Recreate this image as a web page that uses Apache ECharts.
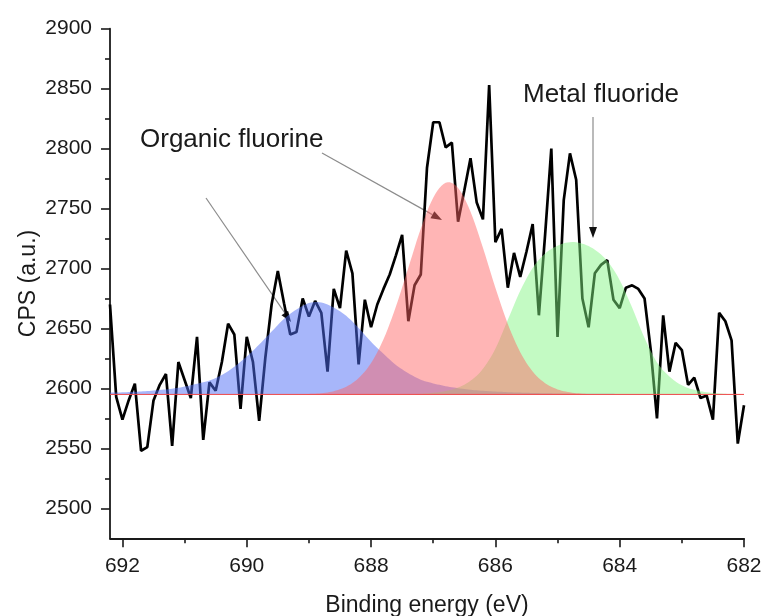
<!DOCTYPE html>
<html>
<head>
<meta charset="utf-8">
<script src="https://cdn.jsdelivr.net/npm/echarts@6/dist/echarts.min.js"></script>
<style>
  html, body { margin: 0; padding: 0; background: #fff; }
  #chart { width: 764px; height: 616px; }
</style>
</head>
<body>
<div id="chart"></div>
<script>
// measured spectrum (binding energy, eV -> counts)
const energy = [692.2, 692.1, 692.0, 691.9, 691.8, 691.7, 691.6, 691.5, 691.4, 691.3,
  691.2, 691.1, 691.0, 690.9, 690.8, 690.7, 690.6, 690.5, 690.4, 690.3,
  690.2, 690.1, 690.0, 689.9, 689.8, 689.7, 689.6, 689.5, 689.4, 689.3,
  689.2, 689.1, 689.0, 688.9, 688.8, 688.7, 688.6, 688.5, 688.4, 688.3,
  688.2, 688.1, 688.0, 687.9, 687.8, 687.7, 687.6, 687.5, 687.4, 687.3,
  687.2, 687.1, 687.0, 686.9, 686.8, 686.7, 686.6, 686.5, 686.4, 686.3,
  686.2, 686.1, 686.0, 685.9, 685.8, 685.7, 685.6, 685.5, 685.4, 685.3,
  685.2, 685.1, 685.0, 684.9, 684.8, 684.7, 684.6, 684.5, 684.4, 684.3,
  684.2, 684.1, 684.0, 683.9, 683.8, 683.7, 683.6, 683.5, 683.4, 683.3,
  683.2, 683.1, 683.0, 682.9, 682.8, 682.7, 682.6, 682.5, 682.4, 682.3,
  682.2, 682.1, 682.0];
const counts = [2670, 2593, 2574, 2590, 2604, 2548, 2551, 2590, 2603, 2612,
  2552, 2622, 2607, 2592, 2643, 2557, 2605, 2598, 2622, 2654,
  2645, 2583, 2643, 2622, 2573, 2626, 2670, 2698, 2671, 2645,
  2647, 2675, 2660, 2673, 2663, 2614, 2683, 2667, 2715, 2696,
  2620, 2674, 2651, 2670, 2683, 2695, 2711, 2728, 2656, 2686,
  2695, 2784, 2822, 2822, 2801, 2805, 2739, 2765, 2792, 2755,
  2741, 2853, 2722, 2733, 2684, 2713, 2693, 2714, 2737, 2661,
  2728, 2800, 2643, 2757, 2796, 2774, 2675, 2651, 2696, 2703,
  2707, 2674, 2667, 2684, 2686, 2683, 2675, 2632, 2575, 2661,
  2614, 2638, 2632, 2603, 2609, 2592, 2594, 2574, 2663, 2656,
  2640, 2554, 2586];

// fitted components
const fitEnergy = [692.2, 692.0, 691.8, 691.6, 691.4, 691.2, 691.0, 690.8, 690.6, 690.4,
  690.2, 690.0, 689.8, 689.6, 689.4, 689.2, 689.0, 688.8, 688.6, 688.4,
  688.2, 688.0, 687.8, 687.6, 687.4, 687.2, 687.0, 686.8, 686.6, 686.4,
  686.2, 686.0, 685.8, 685.6, 685.4, 685.2, 685.0, 684.8, 684.6, 684.4,
  684.2, 684.0, 683.8, 683.6, 683.4, 683.2, 683.0, 682.8, 682.6, 682.4,
  682.2, 682.0];
const organicFit = [2596.5, 2596.7, 2597.2, 2597.8, 2598.7, 2599.8, 2601.5, 2603.9, 2606.6, 2611.2,
  2618.1, 2626.6, 2636.6, 2647.4, 2658.1, 2665.8, 2671.2, 2671.6, 2667.4, 2660.5,
  2650.4, 2638.9, 2628.9, 2619.6, 2612.7, 2607.3, 2604.2, 2601.9, 2600.2, 2598.9,
  2598.0, 2597.4, 2596.9, 2596.5, 2596.2, 2596.0, 2595.8, 2595.7, 2595.6, 2595.5,
  2595.5, 2595.4, 2595.4, 2595.3, 2595.3, 2595.3, 2595.2, 2595.2, 2595.2, 2595.2,
  2595.1, 2595.1];
const organicFit2 = [2595, 2595, 2595, 2595, 2595, 2595, 2595, 2595, 2595, 2595,
  2595, 2595, 2595, 2595, 2595, 2595, 2595.4, 2596, 2597.7, 2601.4,
  2608.6, 2621.2, 2641, 2668.3, 2700.7, 2733.2, 2759, 2771.5, 2767.2, 2747.4,
  2717.3, 2684, 2653.8, 2630.2, 2614.1, 2604.4, 2599.2, 2596.7, 2595.6, 2595,
  2595, 2595, 2595, 2595, 2595, 2595, 2595, 2595, 2595, 2595,
  2595, 2595];
const metalFit = [2595, 2595, 2595, 2595, 2595, 2595, 2595, 2595, 2595, 2595,
  2595, 2595, 2595, 2595, 2595, 2595, 2595, 2595, 2595, 2595,
  2595, 2595, 2595, 2595, 2595, 2595.5, 2596.3, 2597.8, 2600.7, 2606.4,
  2616.3, 2633.1, 2657.2, 2681.4, 2700.4, 2712.5, 2719, 2722, 2720.7, 2715.7,
  2706.3, 2690.3, 2667.4, 2642, 2621.7, 2609.9, 2602.6, 2598.8, 2596.8, 2595.8,
  2595.3, 2595.1];
const baseline = 2595;
// peak tops, used as the custom series items (drawing order: blue, green, red)
const peakCentres = [688.88, 684.76, 686.72];
const peakHeights = [2671.6, 2722, 2772];

const xTicks = [682, 684, 686, 688, 690, 692];
const xMinorTicks = [683, 685, 687, 689, 691];
const yTicks = [2500, 2550, 2600, 2650, 2700, 2750, 2800, 2850, 2900];
const yMinorTicks = [2525, 2575, 2625, 2675, 2725, 2775, 2825, 2875];

const FONT = "'Liberation Sans', Arial, sans-serif";
const INK = "#1a1a1a";
const fits = [organicFit, metalFit, organicFit2];
const fills = ["rgba(80,110,245,0.5)", "rgba(130,245,130,0.48)", "rgba(255,100,100,0.48)"];

let myChart = echarts.init(document.getElementById("chart"));

// catmull-rom through the projected points, so the fill edge is a smooth curve
function smoothPts(pts) {
  const out = [];
  for (let i = 0; i < pts.length - 1; i++) {
    const p0 = pts[Math.max(i - 1, 0)], p1 = pts[i], p2 = pts[i + 1], p3 = pts[Math.min(i + 2, pts.length - 1)];
    for (let k = 0; k < 6; k++) {
      const t = k / 6, t2 = t * t, t3 = t2 * t;
      out.push([0, 1].map(j => 0.5 * (2 * p1[j] + (-p0[j] + p2[j]) * t +
        (2 * p0[j] - 5 * p1[j] + 4 * p2[j] - p3[j]) * t2 +
        (-p0[j] + 3 * p1[j] - 3 * p2[j] + p3[j]) * t3)));
    }
  }
  out.push(pts[pts.length - 1]);
  return out;
}

function renderPeak(params, api) {
  const vals = fits[params.dataIndex];
  const top = smoothPts(fitEnergy.map((e, i) => api.coord([e, vals[i]])));
  top.push(api.coord([fitEnergy[fitEnergy.length - 1], baseline]));
  top.push(api.coord([fitEnergy[0], baseline]));
  return { type: "polygon", shape: { points: top }, style: { fill: fills[params.dataIndex] } };
}

function xAxisDef(ticks, len, main) {
  return {
    type: "value", min: 682, max: 692.2, inverse: true, position: "bottom",
    axisLine: { show: main, onZero: false, lineStyle: { color: INK, width: 1.8 } },
    axisTick: { show: true, customValues: ticks, length: len, lineStyle: { color: INK, width: 1.6 } },
    axisLabel: main
      ? { customValues: ticks, fontSize: 21, color: INK, fontFamily: FONT, margin: 17, formatter: v => String(v) }
      : { show: false },
    splitLine: { show: false },
    name: main ? "Binding energy (eV)" : "",
    nameLocation: "middle",
    nameGap: 56,
    nameTextStyle: { fontSize: 23, color: INK, fontFamily: FONT }
  };
}

function yAxisDef(ticks, len, main) {
  return {
    type: "value", min: 2475, max: 2900, position: "left",
    axisLine: { show: main, onZero: false, lineStyle: { color: INK, width: 1.8 } },
    axisTick: { show: true, customValues: ticks, length: len, lineStyle: { color: INK, width: 1.6 } },
    axisLabel: main
      ? { customValues: ticks, fontSize: 21, color: INK, fontFamily: FONT, margin: 18, formatter: v => String(v) }
      : { show: false },
    splitLine: { show: false },
    name: main ? "CPS (a.u.)" : "",
    nameLocation: "middle",
    nameGap: 70,
    nameMoveOverlap: false,
    nameTextStyle: { fontSize: 23, color: INK, fontFamily: FONT }
  };
}

// arrow: gray shaft, small dark head
function arrow(x1, y1, x2, y2) {
  const dx = x2 - x1, dy = y2 - y1, len = Math.hypot(dx, dy);
  const ux = dx / len, uy = dy / len;
  const L = 11, W = 4;
  const bx = x2 - ux * L, by = y2 - uy * L;
  return [
    { type: "line", shape: { x1: x1, y1: y1, x2: bx, y2: by }, style: { stroke: "#8c8c8c", lineWidth: 1.2 } },
    { type: "polygon", shape: { points: [[x2, y2], [bx - uy * W, by + ux * W], [bx + uy * W, by - ux * W]] }, style: { fill: "#111" } }
  ];
}

let option = {
  animation: false,
  grid: { left: 110, right: 20, top: 28.7, bottom: 77.7, outerBoundsMode: "none" },
  xAxis: [xAxisDef(xTicks, 9, true), xAxisDef(xMinorTicks, 5, false)],
  yAxis: [yAxisDef(yTicks, 9, true), yAxisDef(yMinorTicks, 5, false)],
  series: [
    {
      type: "line", symbol: "none", silent: true, z: 2,
      lineStyle: { color: "#000", width: 2.7 },
      data: energy.map((e, i) => [e, counts[i]])
    },
    {
      // fitted peaks are laid over the spectrum, as in the original plot
      type: "custom", silent: true, z: 3,
      renderItem: renderPeak,
      data: peakCentres.map((e, i) => [e, peakHeights[i]])
    },
    {
      type: "line", symbol: "none", silent: true, z: 4,
      lineStyle: { color: "#f04848", width: 1 },
      data: [[fitEnergy[0], baseline], [fitEnergy[fitEnergy.length - 1], baseline]]
    }
  ],
  graphic: [
    { type: "text", x: 140, y: 140, style: { text: "Organic fluorine", fontSize: 26, fontFamily: FONT, fill: INK, verticalAlign: "middle" } },
    { type: "text", x: 523, y: 95, style: { text: "Metal fluoride", fontSize: 26, fontFamily: FONT, fill: INK, verticalAlign: "middle" } },
    ...arrow(206, 198, 291, 322),
    ...arrow(322, 153, 442, 220),
    ...arrow(593, 117, 593, 238)
  ]
};
myChart.setOption(option);
</script>
</body>
</html>
